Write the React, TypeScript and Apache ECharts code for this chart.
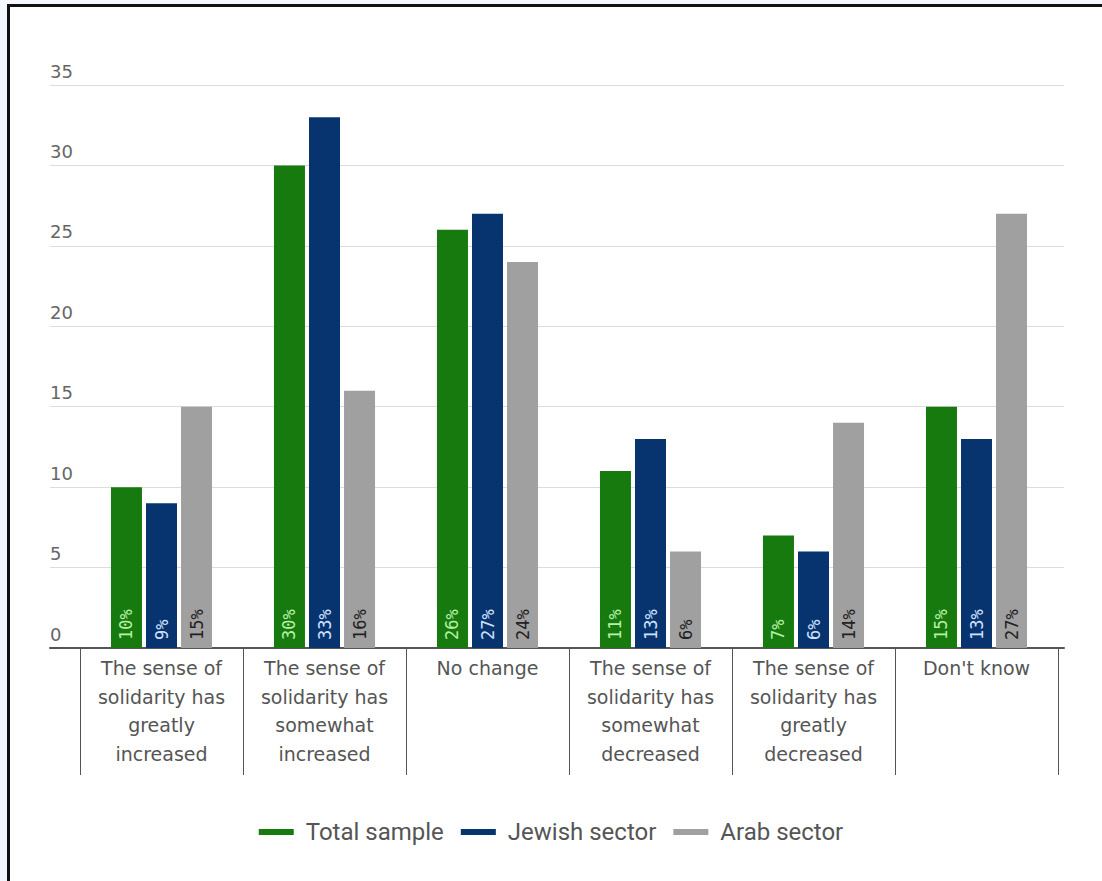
import React, { useEffect, useRef } from "react";
import * as echarts from "echarts";

const categories = [
  "The sense of\nsolidarity has\ngreatly\nincreased",
  "The sense of\nsolidarity has\nsomewhat\nincreased",
  "No change",
  "The sense of\nsolidarity has\nsomewhat\ndecreased",
  "The sense of\nsolidarity has\ngreatly\ndecreased",
  "Don't know",
];
const seriesNames = ["Total sample", "Jewish sector", "Arab sector"];
const totalSample = [10, 30, 26, 11, 7, 15];
const jewishSector = [9, 33, 27, 13, 6, 13];
const arabSector = [15, 16, 24, 6, 14, 27];
const yMin = 0;
const yMax = 35;
const yInterval = 5;

const colors = ["#177a0e", "#07346f", "#a0a0a0"];
const labelColors = ["#b6f0a4", "#cfe0ff", "#222222"];

export default function App() {
  const ref = useRef<HTMLDivElement>(null);
  useEffect(() => {
    if (!ref.current) return;
    const chart = echarts.init(ref.current, undefined, { renderer: "svg" });
    const data = [totalSample, jewishSector, arabSector];
    const option: any = {
      animation: false,
      grid: [
        { left: 80, right: 44, top: 85, bottom: 233 },
        { left: 50, right: 38, top: 85, bottom: 233 },
      ],
      legend: {
        bottom: 32,
        left: "center",
        icon: "rect",
        itemWidth: 35,
        itemHeight: 6,
        itemGap: 17,
        textStyle: {
          fontFamily: "Roboto",
          fontSize: 24,
          color: "#555",
          padding: [0, 0, 0, 7],
        },
        data: seriesNames,
      },
      xAxis: [
        {
          type: "category",
          gridIndex: 0,
          data: categories,
          axisLine: { show: false },
          axisTick: { show: true, length: 127, lineStyle: { color: "#555", width: 1 } },
          axisLabel: {
            interval: 0,
            lineHeight: 28.5,
            fontFamily: "DejaVu Sans",
            fontSize: 19,
            color: "#555",
            margin: 6,
          },
        },
        {
          type: "category",
          gridIndex: 1,
          data: [],
          axisLine: { show: true, lineStyle: { color: "#555", width: 2 } },
          axisTick: { show: false },
          axisLabel: { show: false },
        },
      ],
      yAxis: [
        {
          type: "value",
          gridIndex: 0,
          min: yMin,
          max: yMax,
          interval: yInterval,
          show: false,
          splitLine: { show: false },
        },
        {
          type: "value",
          gridIndex: 1,
          min: yMin,
          max: yMax,
          interval: yInterval,
          axisLine: { show: false },
          axisTick: { show: false },
          splitLine: { show: true, lineStyle: { color: "#dcdcdc", width: 1 } },
          axisLabel: {
            inside: true,
            margin: 0,
            verticalAlign: "bottom",
            padding: [0, 0, 5, 0],
            fontFamily: "DejaVu Sans",
            fontSize: 18,
            color: "#666",
          },
        },
      ],
      series: seriesNames.map((name, i) => ({
        name,
        type: "bar",
        xAxisIndex: 0,
        yAxisIndex: 0,
        data: data[i],
        barWidth: 31,
        barGap: "13%",
        itemStyle: { color: colors[i] },
        label: {
          show: true,
          position: "insideBottom",
          distance: 8,
          rotate: 90,
          align: "left",
          verticalAlign: "middle",
          formatter: "{c}%",
          fontFamily: "DejaVu Sans Mono",
          fontSize: 17,
          color: labelColors[i],
        },
      })),
    };
    chart.setOption(option);
    return () => chart.dispose();
  }, []);
  return (
    <div style={{ position: "fixed", left: 0, top: 0, width: 1102, height: 881, background: "#f4f7fd" }}>
      <div
        style={{
          position: "absolute",
          left: 7,
          top: 4,
          right: 0,
          bottom: 0,
          background: "#ffffff",
          borderTop: "3px solid #111",
          borderLeft: "3px solid #111",
        }}
      />
      <div ref={ref} style={{ position: "absolute", left: 0, top: 0, width: 1102, height: 881 }} />
    </div>
  );
}
